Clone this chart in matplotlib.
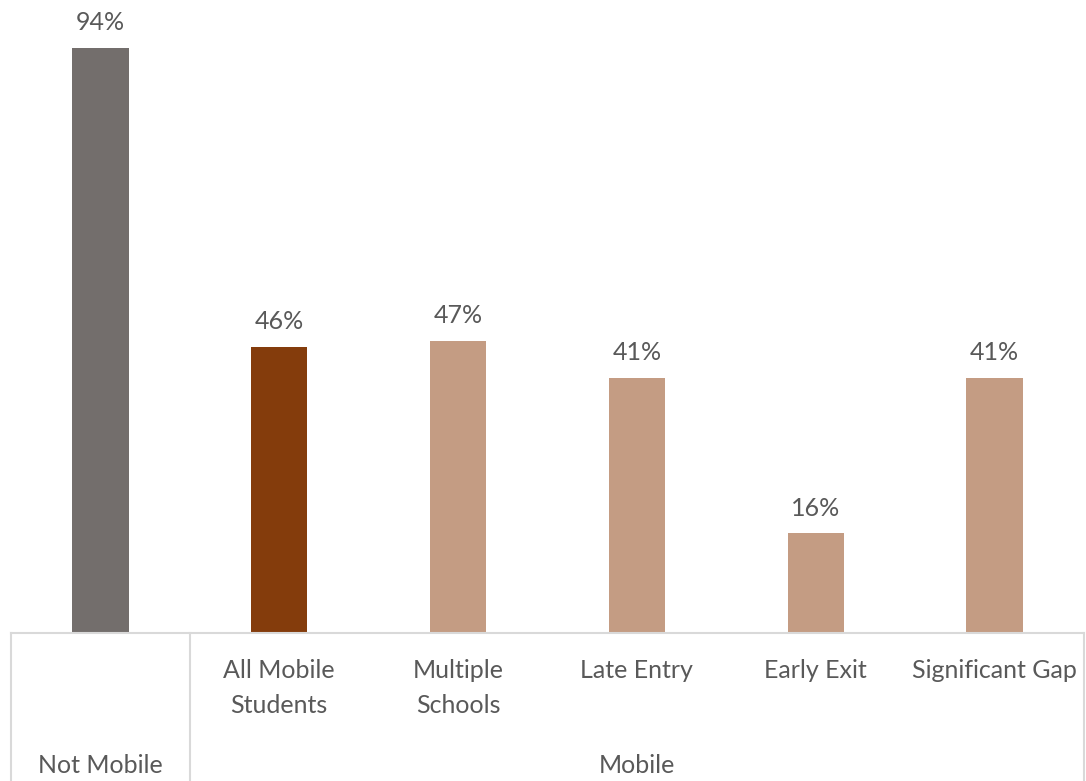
import matplotlib.pyplot as plt
import matplotlib.transforms as mtransforms

categories = ["Not Mobile", "All Mobile\nStudents", "Multiple\nSchools", "Late Entry", "Early Exit", "Significant Gap"]
values = [94, 46, 47, 41, 16, 41]
colors = ["#736E6C", "#843C0C", "#C49C83", "#C49C83", "#C49C83", "#C49C83"]
groups = [("Not Mobile", 0, 0), ("Mobile", 1, 5)]

plt.rcParams['font.family'] = ['Lato', 'DejaVu Sans']
txt = "#595959"
line_c = "#D9D9D9"

fig = plt.figure(figsize=(10.86, 7.81), dpi=100)
ax = fig.add_axes([11 / 1086, 148 / 781, 1073 / 1086, 622 / 781])

x = range(len(values))
bars = ax.bar(x, values, width=0.315, color=colors)
ax.set_xlim(-0.5, len(values) - 0.5)
ax.set_ylim(0, 100)

for b, v in zip(bars, values):
    ax.annotate(f"{v}%", (b.get_x() + b.get_width() / 2, v), xytext=(0, 10),
                textcoords="offset points", ha="center", va="bottom",
                fontsize=18, color=txt)

for s in ["left", "right", "top"]:
    ax.spines[s].set_visible(False)
ax.spines["bottom"].set_color(line_c)
ax.spines["bottom"].set_linewidth(1.5)
ax.set_yticks([])
ax.set_xticks([])

trans = mtransforms.blended_transform_factory(ax.transData, ax.transAxes)
# category labels (top aligned)
for i, c in enumerate(categories):
    if i == 0:
        continue
    ax.text(i, -0.042, c, transform=trans, ha="center", va="top",
            fontsize=18, color=txt, linespacing=1.65)

# group labels and separators
for name, a, b in groups:
    ax.text((a + b) / 2, -0.213, name, transform=trans, ha="center", va="center",
            fontsize=18, color=txt)
for xb in [-0.5, 0.5, len(values) - 0.5]:
    ax.plot([xb, xb], [0, -0.24], transform=trans, color=line_c, lw=1.5,
            clip_on=False)

fig.savefig("out.png", dpi=100)
